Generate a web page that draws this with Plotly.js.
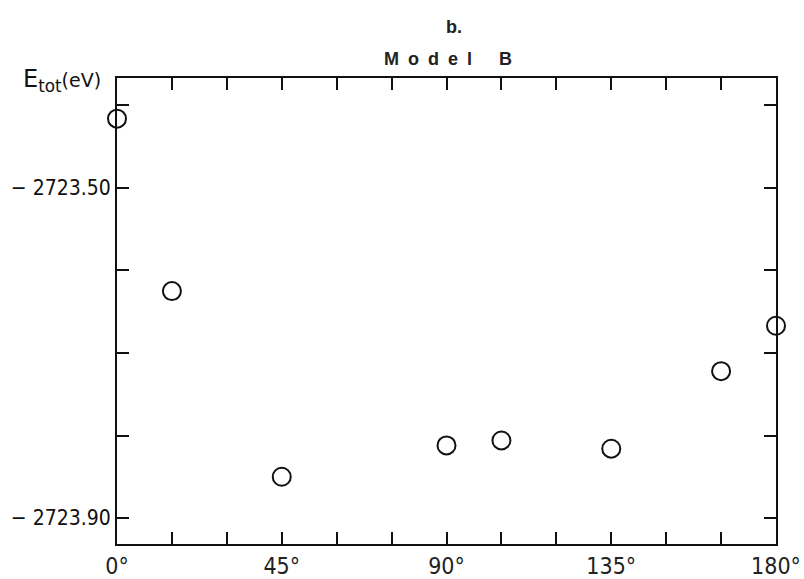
<!DOCTYPE html>
<html>
<head>
<meta charset="utf-8">
<script src="https://cdn.plot.ly/plotly-3.0.1.min.js"></script>
<style>
html,body{margin:0;padding:0;background:#fff;}
#plot{width:804px;height:579px;}
#plot .xtick text, #plot .ytick text { font-stretch: condensed; }
</style>
</head>
<body>
<div id="plot"></div>
<script>
// Data
var angles = [0, 15, 45, 90, 105, 135, 165, 180];
var energies = [-2723.416, -2723.625, -2723.850, -2723.812, -2723.806, -2723.816, -2723.722, -2723.667];

var xTickVals = [0, 15, 30, 45, 60, 75, 90, 105, 120, 135, 150, 165, 180];
var xTickText = ['0°', '', '', '45°', '', '', '90°', '', '', '135°', '', '', '180°'];
var yTickVals = [-2723.4, -2723.5, -2723.6, -2723.7, -2723.8, -2723.9];
var yTickText = ['', '\u2212 2723.50', '', '', '', '\u2212 2723.90'];

var trace = {
  x: angles, y: energies, type: 'scatter', mode: 'markers',
  marker: {symbol: 'circle-open', size: 18, color: '#111', line: {width: 2, color: '#111'}},
  cliponaxis: false, hoverinfo: 'skip'
};

var layout = {
  width: 804, height: 579,
  margin: {l: 117, r: 28, t: 78, b: 35},
  paper_bgcolor: '#fff', plot_bgcolor: '#fff',
  showlegend: false,
  xaxis: {
    range: [0, 180], tickvals: xTickVals, ticktext: xTickText,
    ticks: 'inside', ticklen: 12, tickwidth: 2, tickcolor: '#111',
    showline: true, linewidth: 2, linecolor: '#111', mirror: 'ticks',
    showgrid: false, zeroline: false, ticklabeloverflow: 'allow',
    tickfont: {family: '"DejaVu Sans", sans-serif', size: 23, color: '#222'}
  },
  yaxis: {
    range: [-2723.9315, -2723.3667], tickvals: yTickVals, ticktext: yTickText,
    ticks: 'inside', ticklen: 12, tickwidth: 2, tickcolor: '#111',
    showline: true, linewidth: 2, linecolor: '#111', mirror: 'ticks',
    showgrid: false, zeroline: false,
    tickfont: {family: '"DejaVu Sans", sans-serif', size: 21, color: '#111'}
  },
  annotations: [
    {xref: 'paper', yref: 'paper', x: 0.511, y: 1.11, xanchor: 'center', yanchor: 'middle', showarrow: false,
     text: '<b>b.</b>', font: {family: 'Liberation Sans, sans-serif', size: 18, color: '#222'}},
    {xref: 'paper', yref: 'paper', x: 0.503, y: 1.04, xanchor: 'center', yanchor: 'middle', showarrow: false,
     text: '<b>M\u2002o\u2002d\u2002e\u2002l\u2003\u2002B</b>', font: {family: 'Liberation Sans, sans-serif', size: 18, color: '#222'}},
    {xref: 'paper', yref: 'paper', x: -0.021, y: 0.995, xanchor: 'right', yanchor: 'middle', showarrow: false,
     text: 'E<sub>tot</sub><span style="font-size:19px">(eV)</span>', font: {family: '"DejaVu Sans", sans-serif', size: 24, color: '#111'}}
  ]
};

Plotly.newPlot('plot', [trace], layout, {staticPlot: true, displayModeBar: false});
</script>
</body>
</html>
